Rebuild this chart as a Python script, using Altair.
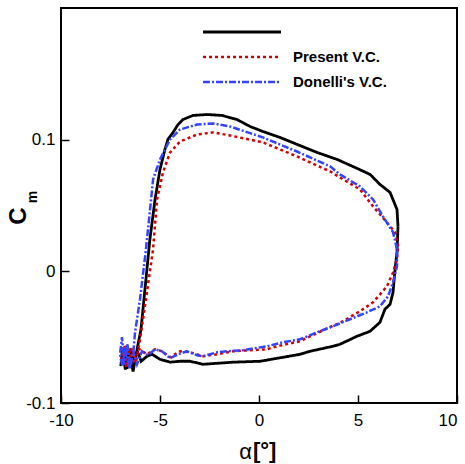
import altair as alt
import pandas as pd

# ---- data ----
series_names = ["Reference", "Present V.C.", "Donelli's V.C."]
legend_labels = ["", "Present V.C.", "Donelli's V.C."]

black_alpha = [7.02, 6.97, 6.62, 6.11, 5.61, 4.85, 3.94, 2.93, 1.92, 1.06, 0.20, -0.45, -1.11,
               -1.87, -2.63, -3.33, -3.84, -4.09, -4.34, -4.60, -4.75, -5.00, -5.25, -5.51,
               -5.76, -5.96, -6.11, -6.30, -6.48, -6.67, -6.84, -6.98, -6.90, -6.75, -6.56,
               -6.36, -6.16, -5.95, -5.66, -5.40, -5.00, -4.49, -3.99, -3.48, -2.83, -2.07,
               -1.31, 0.05, 1.21, 2.07, 2.58, 3.74, 4.09, 4.95, 5.61, 6.11, 6.36, 6.62, 6.77,
               6.87, 6.97, 7.02]
black_cm = [0.0341, 0.0470, 0.0599, 0.0660, 0.0736, 0.0789, 0.0850, 0.0903, 0.0964, 0.1017,
            0.1062, 0.1100, 0.1153, 0.1184, 0.1191, 0.1184, 0.1153, 0.1115, 0.1055, 0.1002,
            0.0926, 0.0774, 0.0546, 0.0243, -0.0137, -0.0440, -0.0554, -0.0710, -0.0590,
            -0.0740, -0.0580, -0.0720, -0.0600, -0.0745, -0.0600, -0.0760, -0.0600, -0.0683,
            -0.0645, -0.0630, -0.0668, -0.0690, -0.0683, -0.0683, -0.0706, -0.0698, -0.0690,
            -0.0683, -0.0653, -0.0630, -0.0607, -0.0569, -0.0554, -0.0493, -0.0455, -0.0387,
            -0.0288, -0.0250, -0.0159, 0.0015, 0.0144, 0.0341]

red_alpha = [7.02, 6.87, 6.46, 5.76, 5.10, 4.09, 3.59, 1.92, 0.20, -1.46, -2.32, -3.13, -3.99,
             -4.49, -4.85, -5.15, -5.35, -5.71, -6.01, -6.20, -6.40, -6.60, -6.80, -6.97,
             -6.85, -6.70, -6.50, -6.30, -6.05, -5.66, -5.25, -4.90, -4.49, -3.99, -3.48,
             -2.83, -2.12, -1.31, -0.45, 0.40, 0.91, 2.07, 3.23, 4.24, 5.10, 5.76, 6.46,
             6.77, 6.97, 7.02]
red_cm = [0.0190, 0.0296, 0.0372, 0.0493, 0.0622, 0.0713, 0.0759, 0.0873, 0.0979, 0.1032,
          0.1055, 0.1039, 0.0986, 0.0903, 0.0751, 0.0546, 0.0167, -0.0212, -0.0516, -0.0680,
          -0.0580, -0.0720, -0.0560, -0.0670, -0.0600, -0.0730, -0.0580, -0.0700, -0.0590,
          -0.0630, -0.0592, -0.0607, -0.0653, -0.0607, -0.0615, -0.0645, -0.0630, -0.0607,
          -0.0599, -0.0592, -0.0569, -0.0531, -0.0448, -0.0379, -0.0303, -0.0235, -0.0114,
          -0.0008, 0.0091, 0.0190]

blue_alpha = [6.97, 6.77, 6.26, 5.76, 5.10, 4.09, 3.59, 1.92, 0.20, -1.46, -2.32, -3.13, -3.99,
              -4.49, -5.00, -5.35, -5.45, -5.71, -6.01, -6.26, -6.35, -6.50, -6.65, -6.80,
              -6.92, -7.02, -6.90, -6.75, -6.55, -6.35, -6.16, -5.91, -5.61, -5.25, -4.90,
              -4.49, -4.09, -3.64, -3.13, -2.83, -2.12, -1.62, -0.81, 0.40, 1.21, 2.07, 2.93,
              3.74, 4.60, 5.45, 6.11, 6.52, 6.77, 6.97, 6.97]
blue_cm = [0.0167, 0.0296, 0.0417, 0.0546, 0.0645, 0.0736, 0.0797, 0.0910, 0.1017, 0.1100,
           0.1123, 0.1115, 0.1077, 0.1002, 0.0850, 0.0698, 0.0546, 0.0167, -0.0212, -0.0463,
           -0.0620, -0.0730, -0.0550, -0.0710, -0.0500, -0.0630, -0.0720, -0.0580, -0.0740,
           -0.0600, -0.0706, -0.0607, -0.0637, -0.0592, -0.0607, -0.0660, -0.0630, -0.0607,
           -0.0637, -0.0645, -0.0615, -0.0607, -0.0599, -0.0569, -0.0539, -0.0516, -0.0463,
           -0.0417, -0.0364, -0.0311, -0.0266, -0.0190, -0.0083, 0.0038, 0.0167]

x_ticks = [-10, -5, 0, 5, 10]
y_ticks = [-0.1, 0, 0.1]
x_title_parts = ["α", "[°]"]
y_title_parts = ["C", "m"]

series_colors = ["#000000", "#d40000", "#3344ff"]
series_dashes = [[1, 0], [3, 3], [7, 2, 2, 2]]
series_widths = [2.8, 2.5, 2.5]

rows = []
for name, xs, ys in zip(series_names,
                        [black_alpha, red_alpha, blue_alpha],
                        [black_cm, red_cm, blue_cm]):
    for i, (a, c) in enumerate(zip(xs, ys)):
        rows.append({"series": name, "alpha": a, "cm": c, "idx": i})
df = pd.DataFrame(rows)

FONT = "Liberation Sans"

x_scale = alt.Scale(domain=[-10, 10], nice=False, zero=False)
y_scale = alt.Scale(domain=[-0.1, 0.2], nice=False, zero=False)
x_axis = alt.Axis(values=x_ticks, offset=-8, tickSize=8, domain=False, grid=False,
                  labelPadding=9, labelFont=FONT, labelFontSize=17, labelColor="black",
                  tickColor="black", tickWidth=1.5, labelExpr="'' + datum.value",
                  labelAlign={"expr": "datum.value == 10 ? 'right' : 'center'"},
                  labelFlush=False, title=None)
y_axis = alt.Axis(values=y_ticks, offset=-8, tickSize=8, domain=False, grid=False,
                  labelPadding=6, labelFont=FONT, labelFontSize=17, labelColor="black",
                  tickColor="black", tickWidth=1.5, labelExpr="'' + datum.value",
                  labelBaseline="middle", labelFlush=False, title=None)

layers = []
for k, name in enumerate(series_names):
    sub = df[df.series == name]
    layers.append(
        alt.Chart(sub).mark_line(strokeWidth=series_widths[k], color=series_colors[k],
                                 strokeDash=series_dashes[k], clip=True).encode(
            x=alt.X("alpha:Q", scale=x_scale, axis=x_axis),
            y=alt.Y("cm:Q", scale=y_scale, axis=y_axis),
            order="idx:Q",
        )
    )

# legend (symbol lines + labels), one row per series
legend_rows_y = [24, 49, 74]
for k in range(len(series_names)):
    layers.append(
        alt.Chart(pd.DataFrame({"t": [legend_labels[k]]})).mark_rule(
            color=series_colors[k], strokeDash=series_dashes[k], strokeWidth=series_widths[k]
        ).encode(x=alt.value(142), x2=alt.value(220), y=alt.value(legend_rows_y[k]))
    )
    if legend_labels[k]:
        layers.append(
            alt.Chart(pd.DataFrame({"t": [legend_labels[k]]})).mark_text(
                font=FONT, fontSize=15, fontWeight="bold", align="left", baseline="middle",
                color="black"
            ).encode(text="t:N", x=alt.value(232), y=alt.value(legend_rows_y[k]))
        )

layers.append(alt.Chart(pd.DataFrame({"t": [x_title_parts[0]]})).mark_text(
    font=FONT, fontSize=22, align="right", baseline="middle", color="black"
).encode(text="t:N", x=alt.value(191), y=alt.value(444)))

layers.append(alt.Chart(pd.DataFrame({"t": [x_title_parts[1]]})).mark_text(
    font=FONT, fontSize=22, fontWeight="bold", align="left", baseline="middle", color="black"
).encode(text="t:N", x=alt.value(192), y=alt.value(443)))

layers.append(alt.Chart(pd.DataFrame({"t": [y_title_parts[0]]})).mark_text(
    font=FONT, fontSize=24, fontWeight="bold", align="center", baseline="middle",
    angle=270, color="black"
).encode(text="t:N", x=alt.value(-42), y=alt.value(208)))

layers.append(alt.Chart(pd.DataFrame({"t": [y_title_parts[1]]})).mark_text(
    font=FONT, fontSize=14, fontWeight="bold", align="center", baseline="middle",
    angle=270, color="black"
).encode(text="t:N", x=alt.value(-28), y=alt.value(189)))

chart = alt.layer(*layers).properties(
    width=396, height=395,
    padding={"left": 61, "top": 8, "right": 8, "bottom": 61},
    autosize=alt.AutoSizeParams(type="none"),
    background="white",
).configure_view(stroke="black", strokeWidth=2)

chart.save("out.html", embed_options={"renderer": "svg", "actions": False})
